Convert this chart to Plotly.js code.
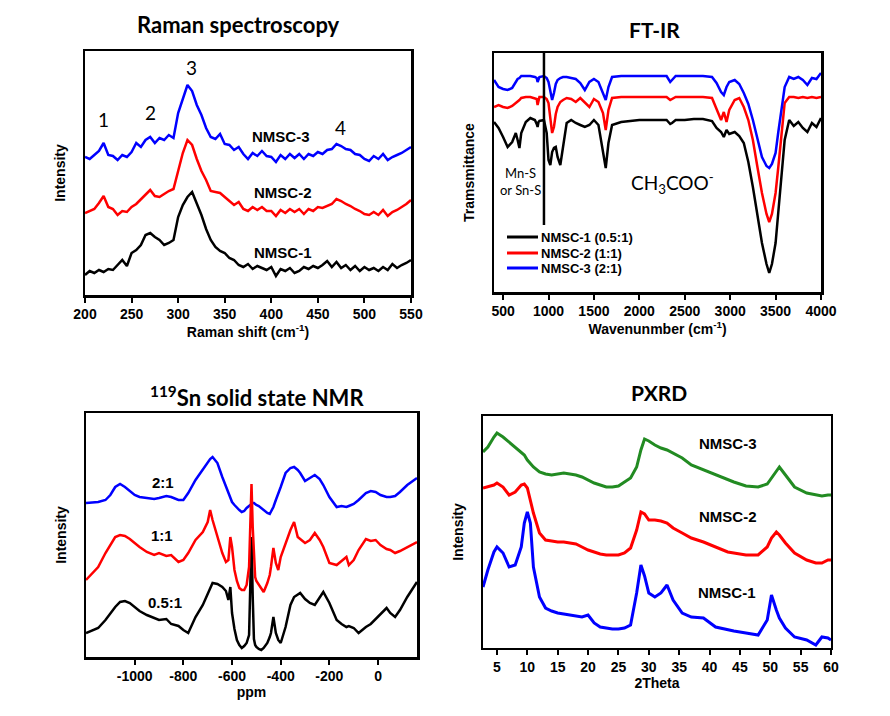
<!DOCTYPE html>
<html><head><meta charset="utf-8">
<script src="https://cdn.plot.ly/plotly-3.0.1.min.js"></script>
<style>html,body{margin:0;padding:0;background:#fff}#chart{width:890px;height:716px}</style>
</head><body><div id="chart"></div>
<script>
// ---------- Raman ----------
const ramanX = [200,205,210,215,220,225,230,235,240,245,250,255,260,265,270,275,280,285,290,295,300,305,310,315,320,325,330,335,340,345,350,355,360,365,370,375,380,385,390,395,400,405,410,415,420,425,430,435,440,445,450,455,460,465,470,475,480,485,490,495,500,505,510,515,520,525,530,535,540,545,550];
const ramanNMSC3 = [138,136,140,144,152,140,139,135,140,138,143,152,148,155,158,152,157,155,160,157,182,196,210,204,190,180,167,158,156,161,151,150,145,148,141,136,142,139,144,139,138,133,140,136,141,137,141,136,141,139,143,141,145,146,151,149,146,145,141,140,136,134,139,136,141,135,138,140,142,145,148];
const ramanNMSC2 = [82,84,86,92,99,88,86,80,84,83,88,91,96,101,105,99,98,101,104,106,124,142,155,150,136,124,115,104,103,102,98,94,90,93,86,84,88,85,88,84,84,79,85,82,86,83,86,81,86,84,88,87,89,91,96,94,91,89,86,84,81,80,83,80,85,79,83,85,88,91,95];
const ramanNMSC1 = [20,24,22,25,23,26,25,30,35,29,42,45,50,60,62,58,55,50,52,55,78,90,98,103,92,80,66,55,48,44,42,37,35,30,28,31,26,29,27,25,28,19,26,24,27,22,24,28,26,29,27,30,34,28,33,27,30,25,29,24,28,25,27,24,28,25,31,27,30,32,35];

// ---------- FT-IR ----------
const ftirX = [400,450,500,550,600,640,660,680,700,750,800,850,870,880,890,900,950,980,1000,1020,1040,1060,1080,1100,1130,1160,1200,1250,1300,1350,1400,1450,1500,1550,1600,1630,1660,1700,1800,1900,2000,2100,2200,2300,2340,2360,2400,2500,2600,2700,2800,2850,2900,2930,2960,2990,3050,3100,3150,3200,3250,3300,3350,3400,3430,3460,3500,3530,3560,3600,3650,3700,3750,3800,3850,3900,3950,4000];
const ftirNMSC1 = [170,164,155,145,150,159,152,144,159,170,174,172,168,165,170,171,172,159,132,127,140,144,145,135,127,145,169,172,169,167,165,167,172,167,142,124,149,167,170,171,172,172,172,172,168,169,172,172,173,173,171,164,160,155,162,158,160,156,149,130,105,78,49,28,19,28,49,80,109,152,172,166,170,164,160,169,165,174];
const ftirNMSC2 = [185,187,185,184,186,189,190,192,194,195,195,194,193,187,193,195,195,193,189,175,159,165,178,185,190,192,194,193,190,194,189,185,193,190,179,162,182,194,195,195,195,195,195,195,192,193,195,195,195,195,194,182,172,180,170,182,192,194,185,172,152,125,99,78,70,78,99,125,152,189,195,195,194,195,194,195,194,195];
const ftirNMSC3 = [212,205,203,202,204,211,213,214,216,216,216,215,214,210,214,215,216,214,210,200,192,199,208,212,214,215,215,214,213,209,202,210,213,210,199,192,205,215,216,216,216,216,216,216,210,212,216,216,216,216,215,209,200,197,205,210,212,208,199,188,172,152,135,126,124,128,139,160,179,205,215,213,215,212,207,214,213,219];
const ftirNames = ['NMSC-1 (0.5:1)','NMSC-2 (1:1)','NMSC-3 (2:1)'];

// ---------- 119Sn NMR ----------
const nmrX = [-1200,-1150,-1120,-1100,-1080,-1060,-1040,-1020,-1000,-980,-950,-920,-900,-870,-850,-820,-800,-780,-750,-720,-700,-690,-680,-660,-640,-625,-615,-607,-600,-590,-580,-570,-560,-550,-540,-530,-525,-520,-515,-510,-505,-500,-490,-480,-470,-455,-445,-440,-430,-420,-410,-400,-380,-360,-345,-330,-320,-300,-280,-260,-240,-225,-200,-170,-150,-130,-120,-100,-80,-50,-30,-10,10,35,50,70,90,120,160];
const nmr21 = [154,155,157,162,170,173,170,166,162,160,159,158,159,161,160,157,157,164,177,187,194,198,200,194,180,170,163,158,155,152,149,147,145,146,149,151,152,153,154,154,153,152,151,149,147,144,143,145,150,157,163,170,184,189,190,187,184,176,179,182,178,172,160,150,151,150,151,153,157,164,166,165,162,160,160,161,165,172,179];
const nmr11 = [77,90,104,112,120,122,121,118,114,110,105,102,104,101,102,95,97,104,117,125,135,147,137,120,104,95,97,120,110,87,76,69,67,67,72,90,130,173,130,95,80,76,72,68,65,74,82,90,109,94,87,100,114,127,135,120,118,114,117,124,117,110,94,92,96,100,92,97,107,118,116,117,112,108,107,104,106,110,115];
const nmr051 = [24,29,37,44,50,55,56,54,50,46,42,39,37,38,33,31,27,24,40,52,63,70,74,73,70,66,57,70,44,28,17,12,9,11,14,22,70,120,60,18,12,10,8,7,9,14,20,24,40,24,17,14,30,52,60,62,64,58,54,52,60,65,54,37,33,30,31,29,24,30,33,38,42,49,44,40,47,60,75];
const nmrTicks = [-1000,-800,-600,-400,-200,0];
const nmrTickText = ['-1000','-800','-600','-400','-200','0'];

// ---------- PXRD ----------
const xrdX = [2.7,3.5,4.5,5,6,7,8,9,9.5,10,10.5,11,12,13,14,15,16,17,18,19,20,21,22,23,24,25,26,27,28,28.7,29.3,30,31,32,33,34,35.5,37,39,41,43,44,46,48,49.5,50.2,51,51.5,52.5,54,56,57.5,58.5,59.5,60];
const xrdNMSC3 = [196,201,211,215,211,206,201,196,193,188,184,181,176,174,173,174,175,174,173,171,168,165,163,161,161,162,166,170,181,198,209,207,203,200,198,195,190,183,178,173,168,166,162,161,164,170,178,181,173,161,155,153,152,153,153];
const xrdNMSC2 = [160,161,163,165,161,153,156,163,164,160,148,135,115,108,107,106,106,105,104,101,98,96,94,93,93,93,95,100,118,136,134,128,128,127,125,120,115,110,106,101,96,95,93,93,101,110,116,113,105,95,88,85,85,88,88];
const xrdNMSC1 = [61,78,96,101,95,81,83,101,125,136,125,81,51,40,37,35,34,33,32,31,33,25,21,20,19,19,20,23,55,83,72,55,51,55,63,48,35,31,30,21,18,17,15,13,28,53,38,30,20,11,8,3,11,10,8];

const BLUE='#0000ff', RED='#ff0000', BLACK='#000000', GREEN='#228b22';
const ftirColors=[BLACK,RED,BLUE];

const traces = [
  {x:ramanX,y:ramanNMSC1,xaxis:'x',yaxis:'y',line:{color:BLACK,width:2.5}},
  {x:ramanX,y:ramanNMSC2,xaxis:'x',yaxis:'y',line:{color:RED,width:2.5}},
  {x:ramanX,y:ramanNMSC3,xaxis:'x',yaxis:'y',line:{color:BLUE,width:2.5}},
  {x:ftirX,y:ftirNMSC1,xaxis:'x2',yaxis:'y2',name:ftirNames[0],line:{color:ftirColors[0],width:2.5}},
  {x:ftirX,y:ftirNMSC2,xaxis:'x2',yaxis:'y2',name:ftirNames[1],line:{color:ftirColors[1],width:2.5}},
  {x:ftirX,y:ftirNMSC3,xaxis:'x2',yaxis:'y2',name:ftirNames[2],line:{color:ftirColors[2],width:2.5}},
  {x:nmrX,y:nmr21,xaxis:'x3',yaxis:'y3',line:{color:BLUE,width:2.5}},
  {x:nmrX,y:nmr051,xaxis:'x3',yaxis:'y3',line:{color:BLACK,width:2.5}},
  {x:nmrX,y:nmr11,xaxis:'x3',yaxis:'y3',line:{color:RED,width:2.5}},
  {x:xrdX,y:xrdNMSC3,xaxis:'x4',yaxis:'y4',line:{color:GREEN,width:3}},
  {x:xrdX,y:xrdNMSC2,xaxis:'x4',yaxis:'y4',line:{color:RED,width:3}},
  {x:xrdX,y:xrdNMSC1,xaxis:'x4',yaxis:'y4',line:{color:BLUE,width:3}}
].map(t=>Object.assign({type:'scatter',mode:'lines',hoverinfo:'skip',showlegend:false},t));

const W=890,H=716;
const px=(x)=>x/W, py=(y)=>1-y/H;
const tickFont={family:'Liberation Sans, Arial, sans-serif',size:14,color:'#000',weight:'bold'};
const titleFont={family:'Liberation Sans, Arial, sans-serif',size:14,color:'#000',weight:'bold'};
function xa(dom,anchor,range,tickvals,title,lw,ticktext){
  const a={domain:dom,anchor:anchor,range:range,tickvals:tickvals,showline:true,mirror:true,linecolor:'#000',linewidth:lw,
    ticks:'outside',ticklen:5,tickwidth:2,tickcolor:'#000',tickfont:tickFont,showgrid:false,zeroline:false,
    title:{text:title,font:titleFont,standoff:4},fixedrange:true};
  if(ticktext) a.ticktext=ticktext;
  return a;
}
function ya(dom,anchor,range,title,lw){
  return {domain:dom,anchor:anchor,range:range,showline:true,mirror:true,linecolor:'#000',linewidth:lw,
    ticks:'',showticklabels:false,showgrid:false,zeroline:false,
    title:{text:title,font:titleFont,standoff:14},fixedrange:true};
}
const seq=(a,b,s)=>{const r=[];for(let v=a;v<=b+1e-9;v+=s)r.push(v);return r;};

const layout={
  width:W,height:H,margin:{l:0,r:0,t:0,b:0},paper_bgcolor:'#fff',plot_bgcolor:'#fff',showlegend:false,
  xaxis: xa([px(85),px(411)],'y',[200,550],seq(200,550,50),'Raman shift (cm<sup>-1</sup>)',2.5),
  yaxis: ya([py(295),py(51)],'x',[0,244],'Intensity',2.5),
  xaxis2: xa([px(494),px(821)],'y2',[400,4000],seq(500,4000,500),'Wavenunmber (cm<sup>-1</sup>)',2.5),
  yaxis2: ya([py(292),py(53)],'x2',[0,239],'Tramsmittance',2.5),
  xaxis3: xa([px(86),px(417)],'y3',[-1200,160],nmrTicks,'ppm',2.5,nmrTickText),
  yaxis3: ya([py(657),py(413)],'x3',[0,244],'Intensity',2.5),
  xaxis4: xa([px(483),px(831)],'y4',[2.7,60],seq(5,60,5),'2Theta',2),
  yaxis4: ya([py(648),py(416)],'x4',[0,232],'Intensity',2),
  shapes:[{type:'line',xref:'x2',yref:'y2',x0:950,x1:950,y0:67,y1:239,line:{color:'#000',width:2.5}}],
  annotations:[]
};
function ann(text,x,y,font,xanchor,yanchor){layout.annotations.push({text:text,x:px(x),y:py(y),xref:'paper',yref:'paper',showarrow:false,xanchor:xanchor||'center',yanchor:yanchor||'middle',font:font});}
const titleBig={family:'Lato, Open Sans, sans-serif',size:22,color:'#000',weight:'bold'};
const titleMid={family:'Lato, Open Sans, sans-serif',size:21,color:'#000',weight:'bold'};
const lab={family:'Liberation Sans, Arial, sans-serif',size:15,color:'#000',weight:'bold'};
const num={family:'Lato, Open Sans, sans-serif',size:19,color:'#000'};
ann('Raman spectroscopy',238,25,titleBig);
ann('FT-IR',654,29,titleMid);
ann('<sup>119</sup>Sn solid state NMR',257,413,titleBig,'center','bottom');
ann('PXRD',659,392,titleMid);
ann('1',103,120,num); ann('2',150,112,num); ann('3',191,68,num); ann('4',340,127,num);
ann('NMSC-3',281,136,lab); ann('NMSC-2',283,193,lab); ann('NMSC-1',283,252,lab);
ann('Mn-S',520,173,{family:'Lato, Open Sans, sans-serif',size:13,color:'#000'});
ann('or Sn-S',520,190,{family:'Lato, Open Sans, sans-serif',size:13,color:'#000'});
ann('CH<sub>3</sub>COO<sup>-</sup>',672,183,{family:'Lato, Open Sans, sans-serif',size:19,color:'#000'});
ann('2:1',163,482,lab); ann('1:1',162,535,lab); ann('0.5:1',165,602,lab);
ann('NMSC-3',728,444,lab); ann('NMSC-2',728,516,lab); ann('NMSC-1',727,592,lab);
// FT-IR key
const keyY=[237,253,268];
ftirNames.forEach((n,i)=>{
  layout.shapes.push({type:'line',xref:'paper',yref:'paper',x0:px(507),x1:px(538),y0:py(keyY[i]),y1:py(keyY[i]),line:{color:ftirColors[i],width:3}});
  ann(n,539,keyY[i],{family:'Liberation Sans, Arial, sans-serif',size:13,color:'#000',weight:'bold'},'left','middle');
});

Plotly.newPlot('chart',traces,layout,{staticPlot:true,displayModeBar:false});
</script></body></html>
